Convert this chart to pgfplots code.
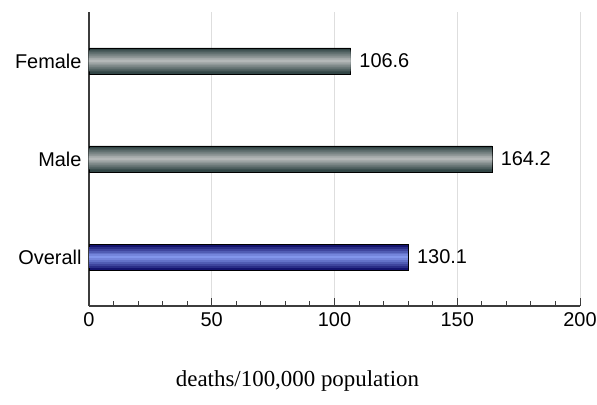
\documentclass[border=0pt]{standalone}
\usepackage{fontspec}
\setmainfont{Liberation Sans}
\newfontfamily\seriffont{Liberation Serif}
\usepackage{pgfplots}
\usepackage{pgfplotstable}
\pgfplotsset{compat=1.18}

\definecolor{grayDark}{RGB}{50,70,70}
\definecolor{grayLight}{RGB}{180,184,184}
\definecolor{blueDark}{RGB}{20,20,110}
\definecolor{blueLight}{RGB}{130,150,235}
\definecolor{gridGray}{RGB}{222,222,222}
\definecolor{axisGray}{RGB}{60,60,60}

% rate per 100,000, position (0 = Overall, 1 = Male, 2 = Female)
\pgfplotstableread{
x     y  lab
164.2 1  164.2
106.6 2  106.6
}\sexdata
\pgfplotstableread{
x     y  lab
130.1 0  130.1
}\alldata

\begin{document}
\begin{tikzpicture}
\begin{axis}[
    at={(0,0)}, anchor=south west,
    scale only axis,
    width=491bp, height=294bp,
    xbar, bar shift=0pt,
    xmin=0, xmax=200,
    ymin=-0.5, ymax=2.5,
    axis x line*=bottom, axis y line*=left,
    axis line style={axisGray, line width=1.3pt},
    xtick={0,50,...,200},
    minor x tick num=4,
    tick align=inside,
    major tick length=8bp, minor tick length=5bp,
    tick style={axisGray, line width=1pt},
    ytick={0,1,2},
    yticklabels={Overall, Male, Female},
    ytick style={draw=none},
    xmajorgrids, grid style={gridGray, line width=0.8pt},
    tick label style={font=\fontsize{20}{22}\selectfont},
    yticklabel style={xshift=-4bp},
    xticklabel style={yshift=-3bp},
    /pgf/number format/assume math mode=true,
    xlabel={\seriffont\fontsize{23}{25}\selectfont deaths/100,000 population},
    xlabel style={yshift=-37bp, xshift=-37bp},
    clip=false,
]
% gray bars: layered from the dark outline to the light centre line
\addplot[draw=black, line width=0.8pt, fill=grayDark, bar width=26bp,
  nodes near coords, point meta=explicit symbolic,
  nodes near coords style={font=\fontsize{20}{22}\selectfont, anchor=west, xshift=5bp}]
  table[x=x, y=y, meta=lab] {\sexdata};
\addplot[draw=none, fill=grayLight!20!grayDark, bar width=21bp] table[x=x, y=y] {\sexdata};
\addplot[draw=none, fill=grayLight!38!grayDark, bar width=17bp] table[x=x, y=y] {\sexdata};
\addplot[draw=none, fill=grayLight!55!grayDark, bar width=13bp] table[x=x, y=y] {\sexdata};
\addplot[draw=none, fill=grayLight!72!grayDark, bar width=9bp] table[x=x, y=y] {\sexdata};
\addplot[draw=none, fill=grayLight!87!grayDark, bar width=5.5bp] table[x=x, y=y] {\sexdata};
\addplot[draw=none, fill=grayLight, bar width=2.5bp] table[x=x, y=y] {\sexdata};
% blue bar
\addplot[draw=black, line width=0.8pt, fill=blueDark, bar width=26bp,
  nodes near coords, point meta=explicit symbolic,
  nodes near coords style={font=\fontsize{20}{22}\selectfont, anchor=west, xshift=5bp}]
  table[x=x, y=y, meta=lab] {\alldata};
\addplot[draw=none, fill=blueLight!20!blueDark, bar width=21bp] table[x=x, y=y] {\alldata};
\addplot[draw=none, fill=blueLight!38!blueDark, bar width=17bp] table[x=x, y=y] {\alldata};
\addplot[draw=none, fill=blueLight!55!blueDark, bar width=13bp] table[x=x, y=y] {\alldata};
\addplot[draw=none, fill=blueLight!72!blueDark, bar width=9bp] table[x=x, y=y] {\alldata};
\addplot[draw=none, fill=blueLight!87!blueDark, bar width=5.5bp] table[x=x, y=y] {\alldata};
\addplot[draw=none, fill=blueLight, bar width=2.5bp] table[x=x, y=y] {\alldata};
\end{axis}
\pgfresetboundingbox
\useasboundingbox (-89bp,-99bp) rectangle (508bp,306bp);
\end{tikzpicture}
\end{document}
